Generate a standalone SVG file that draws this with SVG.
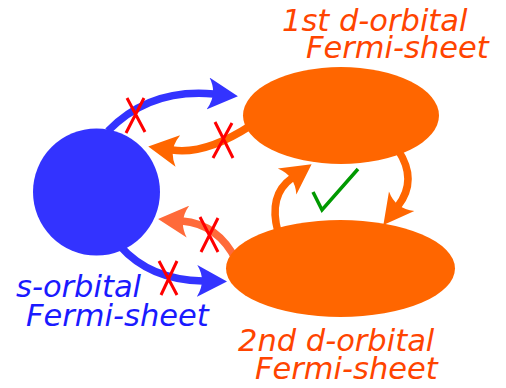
<svg xmlns="http://www.w3.org/2000/svg" width="506" height="388" viewBox="0 0 506 388">
  <style>
    .lbl { font-family: "DejaVu Sans", "Liberation Sans", sans-serif; font-style: oblique; font-size: 30.5px; }
    .lbl-d { fill: #ff4400; }
    .lbl-s { fill: #1a1aff; }
    .conn { fill: none; stroke-width: 7.5; }
    .blue { stroke: #3333ff; }
    .orange { stroke: #ff6600; }
    .coral { stroke: #ff6a3a; }
    .cross { fill: none; stroke: #ff0000; stroke-width: 3; }
    .tick { fill: none; stroke: #009900; stroke-width: 3.5; }
  </style>
  <defs>
    <marker id="head-blue" markerUnits="userSpaceOnUse" viewBox="0 -17 31 34" markerWidth="31" markerHeight="34" refX="6" refY="0" orient="auto">
      <path d="M 0,-16 L 30,0 L 0,16 Q 10,0 0,-16 Z" fill="#3333ff"/>
    </marker>
    <marker id="head-orange" markerUnits="userSpaceOnUse" viewBox="0 -17 31 34" markerWidth="31" markerHeight="34" refX="6" refY="0" orient="auto">
      <path d="M 0,-16 L 30,0 L 0,16 Q 10,0 0,-16 Z" fill="#ff6600"/>
    </marker>
    <marker id="head-coral" markerUnits="userSpaceOnUse" viewBox="0 -17 31 34" markerWidth="31" markerHeight="34" refX="6" refY="0" orient="auto">
      <path d="M 0,-16 L 30,0 L 0,16 Q 10,0 0,-16 Z" fill="#ff6a3a"/>
    </marker>
  </defs>

  <!-- transitions between Fermi sheets -->
  <g id="connectors">
    <path class="conn blue" d="M 108,131 Q 150,88 214,94" marker-end="url(#head-blue)"/>
    <path class="conn orange" d="M 250,126 Q 205,155 172,150" marker-end="url(#head-orange)"/>
    <path class="conn coral" d="M 236,260 Q 218,224 182,221" marker-end="url(#head-coral)"/>
    <path class="conn blue" d="M 120,246 Q 150,280 203,281" marker-end="url(#head-blue)"/>
    <path class="conn orange" d="M 278,232 Q 268,195 292,178" marker-end="url(#head-orange)"/>
    <path class="conn orange" d="M 398,150 Q 418,180 398,206" marker-end="url(#head-orange)"/>
    <!-- forbidden transitions -->
    <path class="cross" d="M 127,98 L 145,132 M 144,98 L 126,133"/>
    <path class="cross" d="M 215,122 L 233,158 M 232,123 L 213,158"/>
    <path class="cross" d="M 200,217 L 218,252 M 218,218 L 201,252"/>
    <path class="cross" d="M 159,261 L 177,295 M 177,261 L 161,295"/>
    <!-- allowed transition -->
    <polyline class="tick" points="313,192 322,210 358,169"/>
  </g>

  <g id="s-sheet">
    <circle cx="96.5" cy="192" r="63.5" fill="#3333ff"/>
    <text class="lbl lbl-s"><tspan x="16" y="297">s-orbital</tspan><tspan x="26" y="326">Fermi-sheet</tspan></text>
  </g>

  <g id="d-sheet-1">
    <ellipse cx="341" cy="115.5" rx="98" ry="48.5" fill="#ff6600"/>
    <text class="lbl lbl-d"><tspan x="282" y="31">1st d-orbital</tspan><tspan x="306" y="58">Fermi-sheet</tspan></text>
  </g>

  <g id="d-sheet-2">
    <ellipse cx="340.5" cy="268.5" rx="114.5" ry="48.5" fill="#ff6600"/>
    <text class="lbl lbl-d"><tspan x="238" y="351">2nd d-orbital</tspan><tspan x="255" y="379">Fermi-sheet</tspan></text>
  </g>
</svg>
